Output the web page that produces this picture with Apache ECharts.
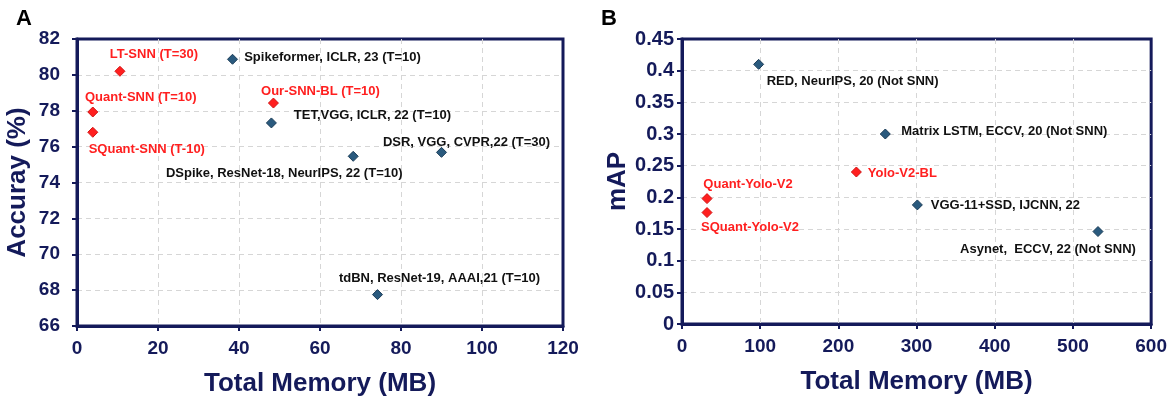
<!DOCTYPE html>
<html>
<head>
<meta charset="utf-8">
<script src="https://cdn.jsdelivr.net/npm/echarts@6/dist/echarts.min.js"></script>
<style>
  html, body { margin: 0; padding: 0; background: #fff; }
  #main { width: 1170px; height: 402px; }
</style>
</head>
<body>
<div id="main"></div>
<script type="text/javascript">
// panel A: accuracy vs memory
var redNamesA = ['LT-SNN (T=30)', 'Quant-SNN (T=10)', 'SQuant-SNN (T-10)', 'Our-SNN-BL (T=10)'];
var redMemA = [10.6, 3.9, 3.9, 48.5];
var redAccA = [80.2, 77.93, 76.8, 78.43];
var blueNamesA = ['Spikeformer, ICLR, 23 (T=10)', 'TET,VGG, ICLR, 22 (T=10)', 'DSpike, ResNet-18, NeurIPS, 22 (T=10)', 'DSR, VGG, CVPR,22 (T=30)', 'tdBN, ResNet-19, AAAI,21 (T=10)'];
var blueMemA = [38.4, 48.0, 68.2, 90.0, 74.2];
var blueAccA = [80.87, 77.32, 75.46, 75.68, 67.75];

// panel B: mAP vs memory
var redNamesB = ['Yolo-V2-BL', 'Quant-Yolo-V2', 'SQuant-Yolo-V2'];
var redMemB = [223, 32, 32];
var redMapB = [0.24, 0.198, 0.176];
var blueNamesB = ['RED, NeurIPS, 20 (Not SNN)', 'Matrix LSTM, ECCV, 20 (Not SNN)', 'VGG-11+SSD, IJCNN, 22', 'Asynet,  ECCV, 22 (Not SNN)'];
var blueMemB = [98, 260, 301, 532];
var blueMapB = [0.41, 0.30, 0.188, 0.146];

// label offsets (px, text centre relative to marker)
var redOffA = [[34, -17], [48, -15], [54, 17], [47, -12]];
var blueOffA = [[100, -2], [101, -8], [-69, 17], [25, -10], [62, -16]];
var redOffB = [[46, 1], [41, -14], [43, 15]];
var blueOffB = [[94, 17], [119, -3], [88, 0], [-50, 18]];

var navy = '#141a5a';
var red = '#ff1f1f';
var blue = '#2a5a7e';
var font = 'Liberation Sans, Arial, sans-serif';

function points(xs, ys, names, offs) {
    return xs.map(function (x, i) {
        return { name: names[i], value: [x, ys[i]], label: { offset: offs[i] } };
    });
}

var gridLine = { show: true, showMinLine: false, showMaxLine: false, lineStyle: { color: '#d6d6d6', type: [5, 4], width: 1 } };

function xAxisFor(idx, max, interval) {
    return {
        gridIndex: idx, type: 'value', min: 0, max: max, interval: interval,
        name: 'Total Memory (MB)', nameLocation: 'middle', nameGap: 45,
        nameTextStyle: { color: navy, fontSize: 26, fontWeight: 'bold', fontFamily: font },
        axisLine: { show: true, lineStyle: { color: navy, width: 3 } },
        axisTick: { show: true, length: 5, lineStyle: { color: navy, width: 2 } },
        axisLabel: { color: navy, fontSize: 19, fontWeight: 'bold', fontFamily: font, margin: 13 },
        splitLine: gridLine
    };
}

function yAxisFor(idx, min, max, interval, name, gap, margin, size) {
    return {
        gridIndex: idx, type: 'value', min: min, max: max, interval: interval,
        name: name, nameLocation: 'middle', nameGap: gap,
        nameTextStyle: { color: navy, fontSize: 26, fontWeight: 'bold', fontFamily: font },
        axisLine: { show: true, lineStyle: { color: navy, width: 3 } },
        axisTick: { show: true, length: 5, lineStyle: { color: navy, width: 2 } },
        axisLabel: { color: navy, fontSize: size, fontWeight: 'bold', fontFamily: font, margin: margin },
        splitLine: gridLine
    };
}

function scatter(idx, data, color, border, textColor) {
    return {
        type: 'scatter', xAxisIndex: idx, yAxisIndex: idx,
        symbol: 'diamond', symbolSize: 10,
        itemStyle: { color: color, borderColor: border, borderWidth: 1, opacity: 1 },
        label: {
            show: true, position: 'inside', formatter: '{b}',
            color: textColor, fontSize: 13, fontWeight: 'bold', fontFamily: font,
            align: 'center', verticalAlign: 'middle', textBorderWidth: 0
        },
        emphasis: { disabled: true },
        data: data
    };
}

var myChart = echarts.init(document.getElementById('main'));

var option = {
    animation: false,
    backgroundColor: '#fff',
    title: [
        { text: 'A', left: 11, top: 3, textStyle: { fontSize: 22, fontWeight: 'bold', color: '#000', fontFamily: font } },
        { text: 'B', left: 596, top: 3, textStyle: { fontSize: 22, fontWeight: 'bold', color: '#000', fontFamily: font } }
    ],
    grid: [
        { left: 77, top: 39, width: 486, height: 287, show: true, borderColor: navy, borderWidth: 3 },
        { left: 682, top: 39, width: 470, height: 285, show: true, borderColor: navy, borderWidth: 3 }
    ],
    xAxis: [xAxisFor(0, 120, 20), xAxisFor(1, 600, 100)],
    yAxis: [
        yAxisFor(0, 66, 82, 2, 'Accuray (%)', 46, 17, 19),
        yAxisFor(1, 0, 0.45, 0.05, 'mAP', 50, 8, 20)
    ],
    series: [
        scatter(0, points(blueMemA, blueAccA, blueNamesA, blueOffA), blue, '#1c3d58', '#111'),
        scatter(0, points(redMemA, redAccA, redNamesA, redOffA), red, '#d41414', red),
        scatter(1, points(blueMemB, blueMapB, blueNamesB, blueOffB), blue, '#1c3d58', '#111'),
        scatter(1, points(redMemB, redMapB, redNamesB, redOffB), red, '#d41414', red)
    ]
};

myChart.setOption(option);
</script>
</body>
</html>
